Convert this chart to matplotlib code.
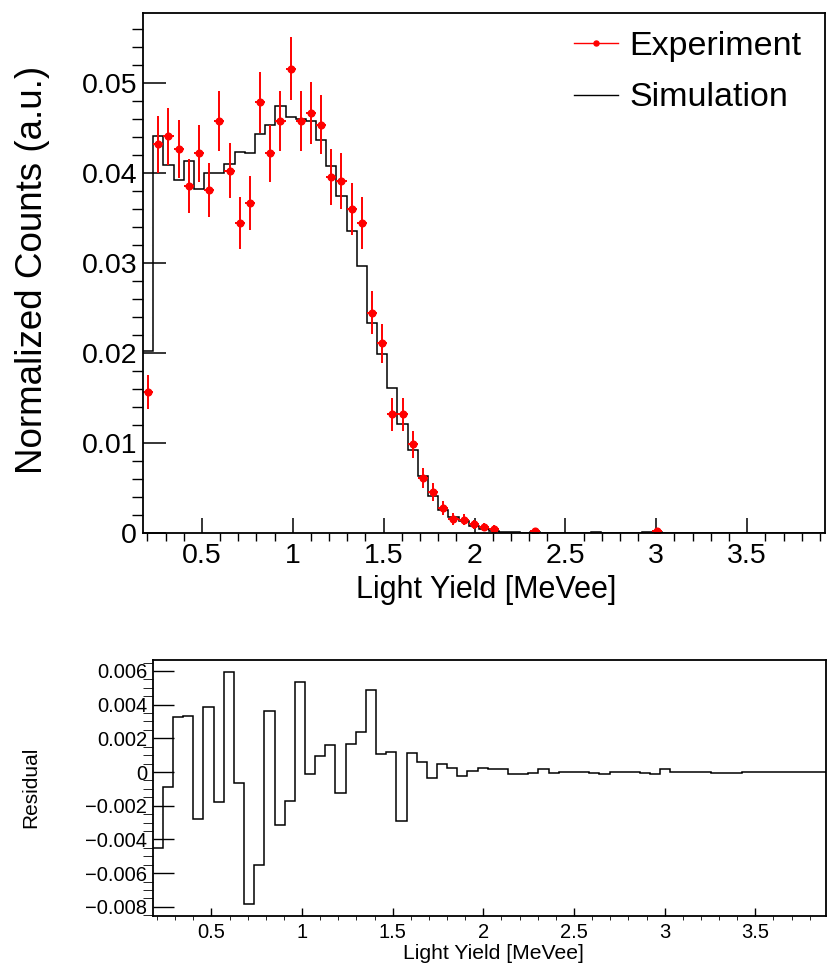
import numpy as np
import matplotlib
matplotlib.use("Agg")
import matplotlib.pyplot as plt
from matplotlib.lines import Line2D
from matplotlib.ticker import MultipleLocator, FuncFormatter

plt.rcParams["font.family"] = ["Liberation Sans", "DejaVu Sans"]

# histogram binning (light yield, MeVee)
n_bins = 67
x_lo, x_hi = 0.176, 3.928

# experiment, normalized counts per bin (0 = empty bin, not drawn)
experiment = [
    0.0157, 0.0432, 0.0441, 0.0427, 0.0386, 0.0422, 0.0381, 0.0458, 0.0403, 0.0345,
    0.0367, 0.0479, 0.0422, 0.0458, 0.0516, 0.0458, 0.0467, 0.0454, 0.0396, 0.0391,
    0.0360, 0.0345, 0.0245, 0.0211, 0.0132, 0.0132, 0.0099, 0.0061, 0.0046, 0.0028,
    0.0016, 0.0015, 0.0010, 0.0007, 0.0005, 0, 0, 0, 0.0003, 0,
    0, 0, 0, 0, 0, 0, 0, 0, 0, 0,
    0.0003, 0, 0, 0, 0, 0, 0, 0, 0, 0,
    0, 0, 0, 0, 0, 0, 0,
]
experiment_err = [
    0.0019, 0.0032, 0.0032, 0.0032, 0.0030, 0.0032, 0.0030, 0.0033, 0.0031, 0.0029,
    0.0030, 0.0034, 0.0032, 0.0033, 0.0035, 0.0033, 0.0034, 0.0033, 0.0031, 0.0031,
    0.0029, 0.0029, 0.0024, 0.0022, 0.0018, 0.0018, 0.0015, 0.0011, 0.0010, 0.0008,
    0.0007, 0.0006, 0.0005, 0.0004, 0.0004, 0, 0, 0, 0.0003, 0,
    0, 0, 0, 0, 0, 0, 0, 0, 0, 0,
    0.0003, 0, 0, 0, 0, 0, 0, 0, 0, 0,
    0, 0, 0, 0, 0, 0, 0,
]
simulation = [
    0.0202, 0.0441, 0.0409, 0.0393, 0.0414, 0.0383, 0.0400, 0.0400, 0.0410, 0.0424,
    0.0422, 0.0444, 0.0454, 0.0475, 0.0462, 0.0460, 0.0458, 0.0437, 0.0408, 0.0375,
    0.0336, 0.0297, 0.0234, 0.0199, 0.0161, 0.0121, 0.0093, 0.0064, 0.0041, 0.0026,
    0.0018, 0.0014, 0.0008, 0.0005, 0.0003, 0.00012, 0.00012, 0.00006, 0.00014, 0.00004,
    0.00002, 0.00002, 0.00001, 0.00006, 0.0001, 0.00001, 0.00001, 0.00001, 0.00004, 0.0001,
    0.0001, 0.00001, 0.00001, 0.00001, 0.00001, 0.00004, 0.00008, 0.00004, 0.00001, 0.00002,
    0, 0, 0, 0, 0, 0, 0,
]
# experiment - simulation, as drawn in the lower pad
residual = [
    -0.00449, -0.00087, 0.00324, 0.00334, -0.00281, 0.00388, -0.00180, 0.00592, -0.00067, -0.00783,
    -0.00554, 0.00360, -0.00317, -0.00174, 0.00532, -0.00014, 0.00095, 0.00162, -0.00123, 0.00164,
    0.00239, 0.00485, 0.00105, 0.00120, -0.00290, 0.00110, 0.00060, -0.00036, 0.00050, 0.00024,
    -0.00022, 0.00008, 0.00026, 0.00020, 0.00020, -0.00012, -0.00012, -0.00006, 0.00016, -0.00004,
    0, 0, 0, -0.00006, -0.00010, 0, 0, 0, -0.00004, -0.00010,
    0.00020, 0, 0, 0, 0, -0.00004, -0.00008, -0.00004, 0, -0.00002,
    0, 0, 0, 0, 0, 0, 0,
]

edges = np.linspace(x_lo, x_hi, n_bins + 1)
centers = 0.5 * (edges[:-1] + edges[1:])
half_w = 0.5 * (edges[1] - edges[0])
exp_v = np.array(experiment)
exp_e = np.array(experiment_err)
filled = exp_v > 0

W, H = 827, 964
fig = plt.figure(figsize=(W / 100, H / 100), dpi=100)


def px_axes(left, top, right, bottom):
    return fig.add_axes([left / W, 1 - bottom / H, (right - left) / W, (bottom - top) / H])


def fmt(v, _):
    s = f"{v:.4g}"
    if abs(v) < 1e-12:
        s = "0"
    return s.replace("-", "\u2212")


# ---- upper pad: spectra ----
ax = px_axes(143, 13, 825, 533.3)
ax.stairs(simulation, edges, baseline=None, color="black", lw=1.1)
ax.errorbar(centers[filled], exp_v[filled], yerr=exp_e[filled], xerr=half_w,
            fmt="o", color="red", ms=4.8, elinewidth=1.4, capsize=0)
ax.set_xlim(x_lo, x_hi)
ax.set_ylim(0, 0.0578)
ax.xaxis.set_major_locator(MultipleLocator(0.5))
ax.xaxis.set_minor_locator(MultipleLocator(0.1))
ax.yaxis.set_major_locator(MultipleLocator(0.01))
ax.yaxis.set_minor_locator(MultipleLocator(0.002))
ax.xaxis.set_major_formatter(FuncFormatter(fmt))
ax.yaxis.set_major_formatter(FuncFormatter(fmt))
ax.tick_params(direction="in", top=False, right=False, labelsize=20.5, width=1.1)
ax.tick_params(axis="x", which="major", length=10.8, pad=7)
ax.tick_params(axis="x", which="minor", length=5.8, width=1.0)
ax.tick_params(axis="y", which="major", length=16.5, pad=4.3)
ax.tick_params(axis="y", which="minor", length=7.9, width=1.0)
for sp in ax.spines.values():
    sp.set_linewidth(1.3)

fig.text(486 / W, 1 - 598 / H, "Light Yield [MeVee]", ha="center", va="baseline", fontsize=22)
fig.text(33 / W, 1 - 270 / H, "Normalized Counts (a.u.)", rotation=90,
         ha="center", va="center", fontsize=26.5)

handles = [Line2D([], [], color="red", lw=1.0, marker="o", ms=3.6),
           Line2D([], [], color="black", lw=1.0)]
fig.legend(handles, ["Experiment", "Simulation"], loc="upper left",
           bbox_to_anchor=(574 / W, 1 - 31 / H), frameon=False, fontsize=24.5,
           handlelength=1.3, handletextpad=0.33, borderpad=0, borderaxespad=0,
           labelspacing=0.6)

# ---- lower pad: residual ----
bx = px_axes(152.7, 660, 826, 915.7)
bx.stairs(residual, edges, baseline=None, color="black", lw=1.1)
bx.set_xlim(x_lo, 3.89)
bx.set_ylim(-0.00853, 0.00665)
bx.xaxis.set_major_locator(MultipleLocator(0.5))
bx.xaxis.set_minor_locator(MultipleLocator(0.1))
bx.yaxis.set_major_locator(MultipleLocator(0.002))
bx.yaxis.set_minor_locator(MultipleLocator(0.0005))
bx.xaxis.set_major_formatter(FuncFormatter(fmt))
bx.yaxis.set_major_formatter(FuncFormatter(fmt))
bx.tick_params(direction="in", top=False, right=False, labelsize=14.5, width=1.0)
bx.tick_params(axis="x", which="major", length=5.8, pad=5)
bx.tick_params(axis="x", which="minor", length=2.9)
bx.tick_params(axis="y", which="major", length=15, pad=4)
bx.tick_params(axis="y", which="minor", length=7.2)
for sp in bx.spines.values():
    sp.set_linewidth(1.3)

fig.text(493 / W, 1 - 959 / H, "Light Yield [MeVee]", ha="center", va="baseline", fontsize=15.2)
fig.text(31 / W, 1 - 787 / H, "Residual", rotation=90, ha="center", va="center", fontsize=15)

fig.savefig("out.png", dpi=100)
